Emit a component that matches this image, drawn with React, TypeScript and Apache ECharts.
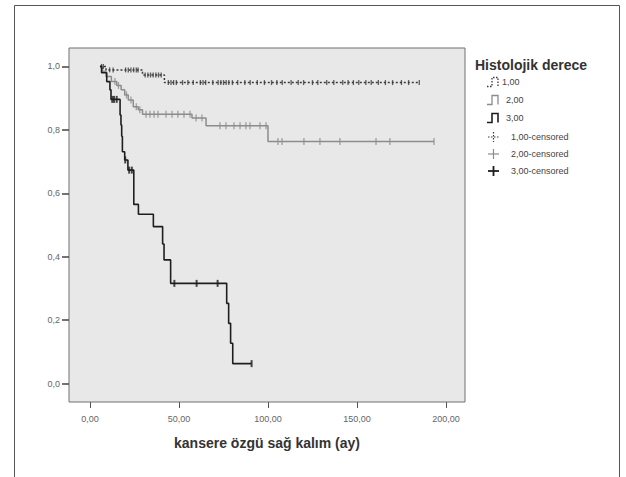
import React, { useEffect, useRef } from "react";
import * as echarts from "echarts";

// Axis ticks
const xTicks = [0, 50, 100, 150, 200];
const yTicks = [0, 0.2, 0.4, 0.6, 0.8, 1.0];
const xTitle = "kansere özgü sağ kalım (ay)";
const legendTitle = "Histolojik derece";
const legendLabels = ["1,00", "2,00", "3,00", "1,00-censored", "2,00-censored", "3,00-censored"];

// Group 1,00 (step curve)
const g1Times = [5.6, 9, 29.5, 41.8, 185.4];
const g1Surv = [1.0, 0.989, 0.973, 0.949, 0.949];
const g1Censor = [6.5, 7.5, 11, 13, 20, 21.5, 23, 24.5, 26, 27, 31, 32.5, 34, 35.5, 37, 38.5, 40,
  44, 45.5, 47, 48.5, 52, 55, 58, 62, 63.5, 65, 69, 72, 73.5, 75, 76.5, 78, 80, 83, 87, 90, 94, 98,
  102, 105, 108, 113, 117, 120, 125, 128, 133, 137, 142, 145, 148, 151, 155, 158, 162, 166, 170, 175, 179, 185];

// Group 2,00
const g2Times = [5.6, 7, 9, 12, 15, 17.5, 19.5, 21.5, 24.3, 27.1, 29.5, 57.3, 65.2, 100, 193.3];
const g2Surv = [1.0, 0.985, 0.968, 0.952, 0.94, 0.926, 0.91, 0.894, 0.873, 0.863, 0.849, 0.837, 0.813, 0.763, 0.763];
const g2Censor = [14, 16, 20.5, 23, 26, 28, 31.5, 33.7, 36, 38.2, 42.7, 46.1, 49.4, 52.8, 56.2, 59.6, 62.9,
  73, 76.4, 80.9, 84.3, 87.6, 89.9, 95.5, 98.9, 105.6, 107.9, 120.2, 129.2, 140.4, 160.7, 168.5, 193.3];

// Group 3,00
const g3Times = [5.6, 6.5, 9.4, 11.2, 11.8, 16.9, 17.4, 17.8, 18.2, 19.5, 21.3, 24.6, 27.2, 35.6, 40.8, 41.6, 45.3, 76.8, 77.9, 79.0, 80.2, 90.8];
const g3Surv = [1.0, 0.98, 0.952, 0.926, 0.896, 0.847, 0.815, 0.78, 0.731, 0.705, 0.673, 0.565, 0.534, 0.495, 0.44, 0.39, 0.316, 0.253, 0.19, 0.127, 0.063, 0.063];
const g3Censor = [12.5, 13.5, 15, 19.8, 22, 23.5, 47.4, 59.9, 71.7, 90.8];

function stepAt(times: number[], surv: number[], t: number) {
  let v = surv[0];
  for (let i = 0; i < times.length; i++) if (times[i] <= t) v = surv[i];
  return v;
}
const pairs = (t: number[], s: number[]) => t.map((x, i) => [x, s[i]]);
const censorPts = (c: number[], t: number[], s: number[]) => c.map((x) => [x, stepAt(t, s, x)]);

const FONT = "'Liberation Sans', Arial, sans-serif";

export default function App() {
  const ref = useRef<HTMLDivElement>(null);
  useEffect(() => {
    if (!ref.current) return;
    const chart = echarts.init(ref.current, undefined, { renderer: "svg" });
    const comma = (v: number, d: number) => v.toFixed(d).replace(".", ",");
    const c1 = "#3a3a3a", c2 = "#8c8c8c", c3 = "#1e1e1e";
    const ly = [82, 100, 118, 137, 154, 171];
    const stepIcon = (y: number, stroke: string, lw: number, dash?: number[]) => ({
      type: "polyline",
      shape: { points: [[487, y + 4.5], [492, y + 4.5], [492, y - 4.5], [498, y - 4.5], [498, y + 4.5]] },
      style: { stroke, fill: "none", lineWidth: lw, lineDash: dash },
      silent: true,
    });
    const plus = (y: number, stroke: string, lw: number, dash?: number[]) => ([
      { type: "line", shape: { x1: 488, y1: y, x2: 499, y2: y }, style: { stroke, lineWidth: lw, lineDash: dash } },
      { type: "line", shape: { x1: 493.5, y1: y - 5, x2: 493.5, y2: y + 5 }, style: { stroke, lineWidth: lw, lineDash: dash } },
    ]);
    const ltext = (x: number, y: number, text: string) => ({
      type: "text", x, y,
      style: { text, font: `9px ${FONT}`, fill: "#444", align: "left", verticalAlign: "middle", textAlign: "left", textVerticalAlign: "middle" },
    });
    chart.setOption({
      animation: false,
      grid: {
        left: 69, top: 48, width: 396, height: 354, show: true,
        backgroundColor: "#e8e8e8", borderColor: "#707070", borderWidth: 1,
      },
      xAxis: {
        type: "value", min: -11.8, max: 210.7,
        name: xTitle, nameLocation: "middle", nameGap: 34,
        nameTextStyle: { fontFamily: FONT, fontSize: 14, fontWeight: "bold", color: "#333" },
        axisLine: { show: false, onZero: false },
        splitLine: { show: false },
        axisTick: { show: true, length: 6, customValues: xTicks, lineStyle: { color: "#555" } },
        axisLabel: { customValues: xTicks, margin: 12, fontFamily: FONT, fontSize: 9, color: "#666", formatter: (v: number) => comma(v, 2) },
      },
      yAxis: {
        type: "value", min: -0.058, max: 1.058,
        axisLine: { show: false, onZero: false },
        splitLine: { show: false },
        axisTick: { show: true, length: 7, customValues: yTicks, lineStyle: { color: "#444", width: 1.5 } },
        axisLabel: { customValues: yTicks, margin: 9, fontFamily: FONT, fontSize: 9, color: "#666", formatter: (v: number) => comma(v, 1) },
      },
      series: [
        {
          type: "line", step: "end", data: pairs(g2Times, g2Surv), showSymbol: false,
          lineStyle: { color: c2, width: 1.5 }, z: 2,
        },
        {
          type: "scatter", data: censorPts(g2Censor, g2Times, g2Surv), symbol: "rect", symbolSize: [1.3, 7],
          itemStyle: { color: c2 }, z: 2,
        },
        {
          type: "line", step: "end", data: pairs(g1Times, g1Surv), showSymbol: false,
          lineStyle: { color: c1, width: 1.5, type: [2, 2] }, z: 3,
        },
        {
          type: "scatter", data: censorPts(g1Censor, g1Times, g1Surv), symbol: "rect", symbolSize: [1.3, 5],
          itemStyle: { color: c1 }, z: 3,
        },
        {
          type: "line", step: "end", data: pairs(g3Times, g3Surv), showSymbol: false,
          lineStyle: { color: c3, width: 1.6 }, z: 4,
        },
        {
          type: "scatter", data: censorPts(g3Censor, g3Times, g3Surv), symbol: "rect", symbolSize: [2, 7],
          itemStyle: { color: c3 }, z: 4,
        },
      ],
      graphic: [
        { type: "rect", shape: { x: 14.5, y: 5.5, width: 605, height: 490 }, style: { fill: "none", stroke: "#555", lineWidth: 1 }, silent: true },
        {
          type: "text", x: 475, y: 65,
          style: { text: legendTitle, font: `bold 14px ${FONT}`, fill: "#333", align: "left", verticalAlign: "middle", textAlign: "left", textVerticalAlign: "middle" },
        },
        stepIcon(ly[0], c1, 1.3, [1.5, 1.5]),
        stepIcon(ly[1], c2, 1.3),
        stepIcon(ly[2], c3, 1.6),
        ltext(502, ly[0], legendLabels[0]),
        ltext(506, ly[1], legendLabels[1]),
        ltext(506, ly[2], legendLabels[2]),
        ...plus(ly[3], c1, 1.2, [1.5, 1.5]),
        ...plus(ly[4], c2, 1.2),
        ...plus(ly[5], c3, 1.8),
        ltext(511, ly[3], legendLabels[3]),
        ltext(511, ly[4], legendLabels[4]),
        ltext(511, ly[5], legendLabels[5]),
      ],
    });
    return () => chart.dispose();
  }, []);
  return <div ref={ref} style={{ position: "fixed", left: 0, top: 0, width: 626, height: 477, background: "#fff" }} />;
}
